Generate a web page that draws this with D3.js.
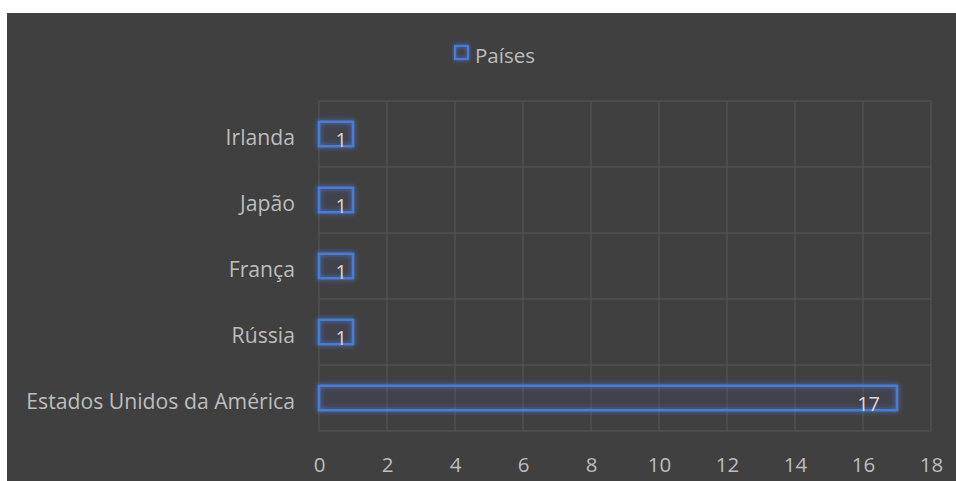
<!DOCTYPE html>
<html><head><meta charset="utf-8">
<script src="https://cdn.jsdelivr.net/npm/d3@7"></script>
<style>html,body{margin:0;padding:0;background:#fff;}</style>
</head><body>
<script>
const categories = ["Estados Unidos da América","Rússia","França","Japão","Irlanda"];
const values = [17,1,1,1,1];
const seriesName = "Países";
const xTicks = [0,2,4,6,8,10,12,14,16,18];

(function(){
const W=956,H=481;
const svg=d3.select("body").append("svg").attr("width",W).attr("height",H);
svg.append("rect").attr("x",7).attr("y",13).attr("width",W-7).attr("height",H-13).attr("fill","#404040");

const defs=svg.append("defs");
const f=defs.append("filter").attr("id","glow").attr("x","-20%").attr("y","-50%").attr("width","140%").attr("height","200%");
f.append("feGaussianBlur").attr("in","SourceGraphic").attr("stdDeviation",2.5).attr("result","b");
const m=f.append("feMerge");m.append("feMergeNode").attr("in","b");m.append("feMergeNode").attr("in","SourceGraphic");

const pL=319,pR=931,pT=101,pB=431;
const x=d3.scaleLinear().domain([0,18]).range([pL,pR]);
const y=d3.scaleBand().domain(categories.slice().reverse()).range([pT,pB]).paddingInner(0.63).paddingOuter(0.315);
const yb=d3.scaleBand().domain(categories.slice().reverse()).range([pT,pB]);

const grid="#575757";
svg.append("g").selectAll("line").data(xTicks).join("line")
 .attr("x1",d=>x(d)).attr("x2",d=>x(d)).attr("y1",pT).attr("y2",pB)
 .attr("stroke",grid).attr("stroke-width",1);
const bounds=yb.domain().map(c=>yb(c)).concat([pB]);
svg.append("g").selectAll("line").data(bounds).join("line")
 .attr("x1",pL).attr("x2",pR).attr("y1",d=>d).attr("y2",d=>d)
 .attr("stroke",grid).attr("stroke-width",1);

const font="'Open Sans', sans-serif";
const txt="#bdbdbd";
const xa=d3.axisBottom(x).tickValues(xTicks).tickSize(0).tickPadding(0);
const gx=svg.append("g").attr("transform",`translate(0,${pB+27})`).call(xa);
gx.select(".domain").remove();
gx.selectAll("text").attr("fill",txt).attr("font-family",font).attr("font-size",20.5).attr("dy","0.7em");

const ya=d3.axisLeft(yb).tickSize(0).tickPadding(24);
const gy=svg.append("g").attr("transform",`translate(${pL},0)`).call(ya);
gy.select(".domain").remove();
gy.selectAll("text").attr("fill",txt).attr("font-family",font).attr("font-size",21.2).attr("dy","0.52em");

const data=categories.map((c,i)=>({c,v:values[i]}));
svg.append("g").selectAll("rect").data(data).join("rect")
 .attr("x",x(0)).attr("y",d=>y(d.c)).attr("width",d=>x(d.v)-x(0)).attr("height",y.bandwidth())
 .attr("fill","rgba(68,114,196,0.04)").attr("stroke","#4a7bd6").attr("stroke-width",2.5).attr("filter","url(#glow)");

svg.append("g").selectAll("text").data(data).join("text")
 .attr("x",d=>x(d.v)-(d.v>=10?17:6)).attr("y",d=>y(d.c)+y.bandwidth()+0.5)
 .attr("text-anchor","end").attr("fill","#d8d8d8").attr("font-family",font).attr("font-size",20)
 .text(d=>d.v);

const lg=svg.append("g").attr("transform","translate(454,45)");
lg.append("rect").attr("x",1).attr("y",1).attr("width",13).attr("height",13).attr("fill","none").attr("stroke","#4a7bd6").attr("stroke-width",2.2).attr("filter","url(#glow)");
lg.append("text").attr("x",21).attr("y",18).attr("fill",txt).attr("font-family",font).attr("font-size",20.5).text(seriesName);
})();
</script>
</body></html>
